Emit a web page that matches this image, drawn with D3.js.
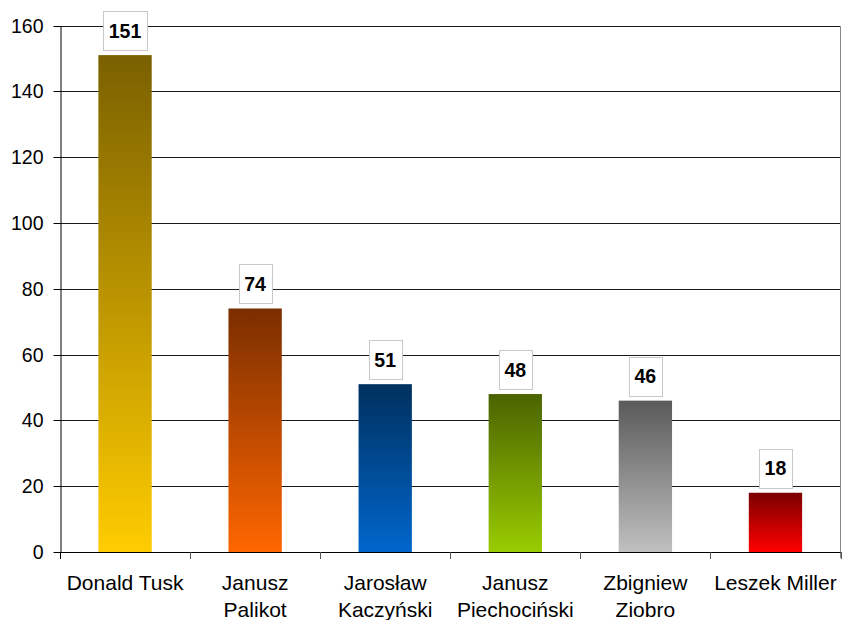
<!DOCTYPE html>
<html><head><meta charset="utf-8">
<script src="https://cdn.jsdelivr.net/npm/d3@7/dist/d3.min.js"></script>
<style>body{margin:0;background:#fff}svg{display:block}</style>
</head><body>
<svg id="c" width="842" height="620"></svg>
<script>
const categories = [["Donald Tusk"], ["Janusz", "Palikot"], ["Jarosław", "Kaczyński"], ["Janusz", "Piechociński"], ["Zbigniew", "Ziobro"], ["Leszek Miller"]];
const values = [151, 74, 51, 48, 46, 18];
const topColors = ["#7a6000", "#7a2e00", "#00305e", "#4a6300", "#5a5a5a", "#7a0000"];
const bottomColors = ["#ffcc00", "#ff6600", "#0066cc", "#99cc00", "#c0c0c0", "#ff0000"];
const yTicks = [0, 20, 40, 60, 80, 100, 120, 140, 160];

(function () {
const svg = d3.select("#c");
const mLeft = 60, mRight = 840.5, mTop = 25.5, mBottom = 552;
const keys = categories.map((c, i) => i);
const x = d3.scaleBand().domain(keys).range([mLeft, mRight]).paddingInner(0.59).paddingOuter(0.295);
const xb = d3.scaleBand().domain(keys).range([mLeft, mRight]).padding(0);
const y = d3.scaleLinear().domain([0, 160]).range([mBottom, mTop]);
const font = "Arial, 'Liberation Sans', sans-serif";

const defs = svg.append("defs");
keys.forEach(i => {
  const g = defs.append("linearGradient").attr("id", "g" + i)
    .attr("x1", 0).attr("y1", 0).attr("x2", 0).attr("y2", 1);
  g.append("stop").attr("offset", "0%").attr("stop-color", topColors[i]);
  g.append("stop").attr("offset", "100%").attr("stop-color", bottomColors[i]);
});

// gridlines
svg.append("g").selectAll("line").data(yTicks.filter(d => d > 0)).join("line")
  .attr("x1", mLeft).attr("x2", mRight)
  .attr("y1", d => Math.round(y(d)) + 0.5).attr("y2", d => Math.round(y(d)) + 0.5)
  .attr("stroke", "#1a1a1a").attr("stroke-width", 1);

// right border
svg.append("line").attr("x1", mRight).attr("x2", mRight).attr("y1", Math.round(y(160)) + 0.5).attr("y2", mBottom + 6)
  .attr("stroke", "#888").attr("stroke-width", 1);

// bars
svg.append("g").selectAll("rect").data(keys).join("rect")
  .attr("x", i => x(i)).attr("width", x.bandwidth())
  .attr("y", i => y(values[i])).attr("height", i => mBottom - y(values[i]))
  .attr("fill", i => `url(#g${i})`);

// y axis
const yAxis = svg.append("g").attr("transform", `translate(${mLeft + 0.5},0)`)
  .call(d3.axisLeft(y).tickValues(yTicks).tickSize(7).tickPadding(10).tickSizeOuter(0));
yAxis.select(".domain").attr("stroke", "#000");
yAxis.selectAll(".tick line").attr("stroke", "#000");
yAxis.selectAll(".tick text").attr("font-family", font).attr("font-size", 19.5).attr("fill", "#000");
yAxis.selectAll(".tick").attr("transform", d => `translate(0,${Math.round(y(d)) + 0.5})`);

// x axis baseline
svg.append("line").attr("x1", mLeft).attr("x2", mRight).attr("y1", mBottom + 0.5).attr("y2", mBottom + 0.5).attr("stroke", "#000");
// x ticks at band boundaries
const bounds = keys.map(i => xb(i)).concat([mRight]);
svg.append("g").selectAll("line").data(bounds).join("line")
  .attr("x1", d => Math.round(d) + 0.5).attr("x2", d => Math.round(d) + 0.5)
  .attr("y1", mBottom).attr("y2", mBottom + 7)
  .attr("stroke", (d, i) => i === 0 ? "#000" : "#555");

// category labels
const lab = svg.append("g").selectAll("text").data(keys).join("text")
  .attr("x", i => xb(i) + xb.bandwidth() / 2)
  .attr("y", mBottom + 38)
  .attr("text-anchor", "middle")
  .attr("font-family", font).attr("font-size", 21).attr("fill", "#000");
lab.each(function (i) {
  const t = d3.select(this);
  categories[i].forEach((s, k) => {
    t.append("tspan").attr("x", xb(i) + xb.bandwidth() / 2).attr("dy", k === 0 ? 0 : 26.5).text(s);
  });
});

// value labels
const vl = svg.append("g").selectAll("g").data(keys).join("g");
vl.each(function (i) {
  const g = d3.select(this);
  const cx = x(i) + x.bandwidth() / 2;
  const t = g.append("text").attr("x", cx).attr("text-anchor", "middle")
    .attr("font-family", font).attr("font-weight", "bold").attr("font-size", 19.5)
    .attr("fill", "#000").text(values[i]);
  const w = t.node().getComputedTextLength() + 11;
  const h = 39;
  const by = y(values[i]) - 5 - h;
  g.insert("rect", "text").attr("x", Math.round(cx - w / 2) + 0.5).attr("y", Math.round(by) + 0.5)
    .attr("width", Math.round(w)).attr("height", h)
    .attr("fill", "#fff").attr("stroke", "#c8c8c8").attr("stroke-width", 1);
  t.attr("y", by + h / 2 + 7);
});
})();
</script>
</body></html>
